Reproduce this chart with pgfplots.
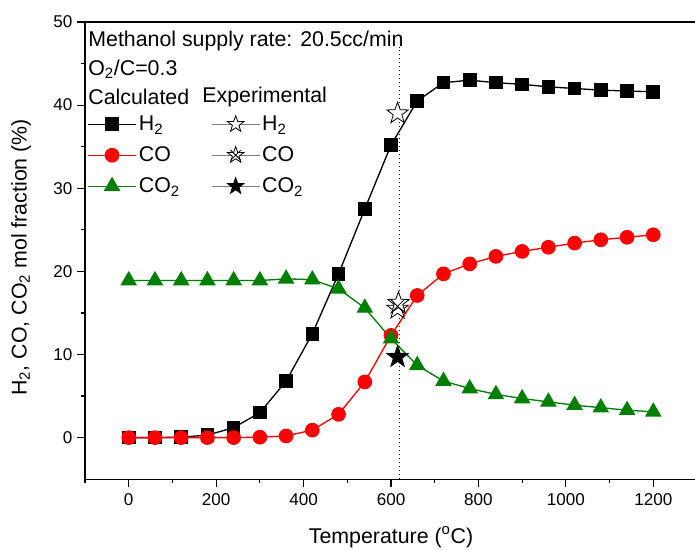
\documentclass[border=0pt]{standalone}
\usepackage{fontspec}
\setmainfont{Liberation Sans}
\usepackage{pgfplots}
\pgfplotsset{compat=1.18}
\usetikzlibrary{plotmarks}
\definecolor{cgreen}{RGB}{0,128,0}
\pgfdeclareplotmark{fivestar}{%
  \pgfpathmoveto{\pgfqpointpolar{90}{\pgfplotmarksize}}%
  \pgfpathlineto{\pgfqpointpolar{126}{0.4\pgfplotmarksize}}%
  \pgfpathlineto{\pgfqpointpolar{162}{\pgfplotmarksize}}%
  \pgfpathlineto{\pgfqpointpolar{198}{0.4\pgfplotmarksize}}%
  \pgfpathlineto{\pgfqpointpolar{234}{\pgfplotmarksize}}%
  \pgfpathlineto{\pgfqpointpolar{270}{0.4\pgfplotmarksize}}%
  \pgfpathlineto{\pgfqpointpolar{306}{\pgfplotmarksize}}%
  \pgfpathlineto{\pgfqpointpolar{342}{0.4\pgfplotmarksize}}%
  \pgfpathlineto{\pgfqpointpolar{18}{\pgfplotmarksize}}%
  \pgfpathlineto{\pgfqpointpolar{54}{0.4\pgfplotmarksize}}%
  \pgfpathclose
  \pgfusepathqfillstroke}
\pgfplotstableread{
T H2 CO CO2
0 0 0 18.9
60 0 0 18.9
120 0.05 0 18.9
180 0.3 0 18.9
240 1.2 0 18.9
300 3.0 0.05 18.9
360 6.8 0.2 19.1
420 12.5 0.9 19.0
480 19.7 2.8 17.9
540 27.5 6.7 15.6
600 35.2 12.3 11.9
660 40.5 17.1 8.7
720 42.7 19.7 6.8
780 43.0 20.9 5.9
840 42.7 21.8 5.2
900 42.5 22.4 4.7
960 42.2 22.9 4.3
1020 42.0 23.4 3.9
1080 41.8 23.8 3.6
1140 41.7 24.1 3.3
1200 41.6 24.4 3.1
}\calc
\newcommand{\tf}{\fontsize{16}{19}\selectfont}
\begin{document}
\begin{tikzpicture}
\begin{axis}[
  scale only axis,
  width=458.8pt, height=342.75pt,
  xmin=-100, xmax=1300, ymin=-5, ymax=50,
  xtick={0,200,...,1200}, minor xtick={-100,100,...,1300},
  ytick={0,10,...,50}, minor ytick={5,15,...,45},
  xtick pos=bottom, ytick pos=left,
  tick align=outside,
  major tick length=6pt, minor tick length=3pt,
  every tick/.style={black, line width=0.9pt},
  axis line style={line width=1pt},
  /pgf/number format/assume math mode=true,
  /pgf/number format/1000 sep={},
  tick label style={font=\fontsize{12.8}{14}\selectfont},
  xticklabel style={yshift=-1pt},
  legend columns=2,
  legend cell align=left,
  legend style={draw=none, fill=none, at={(axis cs:-95.4,39.05)}, anchor=north west,
    font=\tf, row sep=6.6pt, inner sep=0pt,
    nodes={inner xsep=1.5pt},
    /tikz/every even column/.append style={column sep=22pt}},
  legend image code/.code={\draw[mark repeat=2,mark phase=2] plot coordinates {(0cm,0cm) (0.635cm,0cm) (1.27cm,0cm)};},
]
\addplot[black, line width=1pt, mark=square*, mark size=4.6pt] table[x=T,y=H2]{\calc};
\addlegendentry{H\textsubscript{2}}
\addlegendimage{gray, line width=0.6pt, mark=fivestar, mark size=6.5pt, mark options={black, fill=white, line width=0.6pt}}
\addlegendentry{H\textsubscript{2}}
\addplot[red, line width=1pt, mark=*, mark size=5pt, mark options={fill=red}] table[x=T,y=CO]{\calc};
\addlegendentry{CO}
\addlegendimage{legend image code/.code={
  \draw[gray, line width=0.6pt] (0cm,0cm) -- (1.27cm,0cm);
  \draw[black, line width=0.6pt, mark=fivestar, mark size=6.5pt, mark options={fill=white}] plot coordinates {(0.635cm,0cm)};
  \draw[black, line width=0.6pt, mark=x, mark size=5.5pt] plot coordinates {(0.635cm,0cm)};}}
\addlegendentry{CO}
\addplot[cgreen, line width=1pt, mark=triangle*, mark size=6.2pt, mark options={fill=cgreen}] table[x=T,y=CO2]{\calc};
\addlegendentry{CO\textsubscript{2}}
\addlegendimage{gray, line width=0.6pt, mark=fivestar, mark size=6.5pt, mark options={black, fill=black, line width=0.6pt}}
\addlegendentry{CO\textsubscript{2}}
% experimental points
\addplot[only marks, mark=fivestar, mark size=8.5pt, mark options={black, fill=white, line width=0.6pt}, forget plot] coordinates {(615,39.0)};
\addplot[only marks, mark=fivestar, mark size=8.5pt, mark options={black, fill=white, line width=0.6pt}, forget plot] coordinates {(615,15.5) (617,16.2)};
\addplot[only marks, mark=x, mark size=7.5pt, mark options={black, line width=0.6pt}, forget plot] coordinates {(615,15.8)};
\addplot[only marks, mark=fivestar, mark size=8.5pt, mark options={black, fill=black, line width=0.6pt}, forget plot] coordinates {(615,9.7)};
% vertical dotted line
\addplot[black, dash pattern=on 1pt off 2pt, line width=0.9pt, forget plot] coordinates {(620,-5) (620,47)};
\node[anchor=west, inner xsep=0pt, font=\tf] at (axis cs:-93,47.7) {Methanol supply rate: 20.5cc/min};
\node[anchor=west, inner xsep=0pt, font=\tf] at (axis cs:-93,44.3) {O\textsubscript{2}/C=0.3};
\node[anchor=west, inner xsep=0pt, font=\tf] at (axis cs:-93,41.0) {Calculated};
\node[anchor=west, inner xsep=0pt, font=\tf] at (axis cs:168,41.0) {Experimental};
\end{axis}
\node[rotate=90, font=\tf] at ([xshift=-48pt,yshift=-5pt]current axis.west) {H\textsubscript{2}, CO, CO\textsubscript{2} mol fraction (\%)};
\node[font=\tf] at ([yshift=-43.5pt]current axis.south) {Temperature (\textsuperscript{o}C)};
\pgfresetboundingbox
\path ([xshift=-63.75pt,yshift=-52.5pt]current axis.south west) rectangle ([xshift=-1.5pt,yshift=16.5pt]current axis.north east);
\end{tikzpicture}
\end{document}
